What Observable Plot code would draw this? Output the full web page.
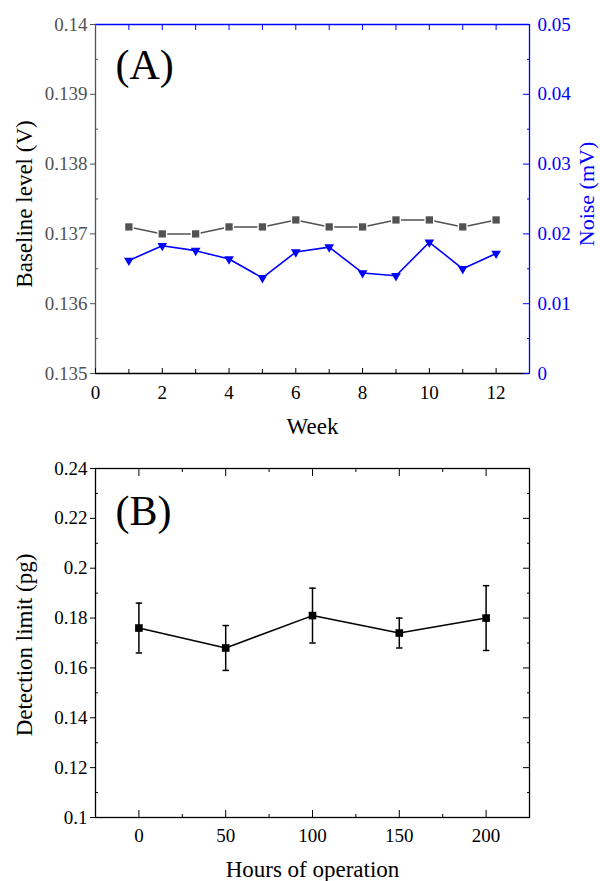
<!DOCTYPE html>
<html><head><meta charset="utf-8">
<script src="https://cdn.jsdelivr.net/npm/d3@7"></script>
<script src="https://cdn.jsdelivr.net/npm/@observablehq/plot@0.6"></script>
<style>
body{margin:0;background:#fff;}
#chart{width:600px;}
#chart svg{display:block;font-family:"Liberation Serif",serif;}
#chart svg text{font-family:"Liberation Serif",serif;font-variant-numeric:normal;}
</style></head><body><div id="chart"></div>
<script>
// ---- Panel A data ----
const weeks = [1,2,3,4,5,6,7,8,9,10,11,12];
const baseline = [0.1371,0.1370,0.1370,0.1371,0.1371,0.1372,0.1371,0.1371,0.1372,0.1372,0.1371,0.1372];
const noise = [0.0162,0.0183,0.0176,0.0164,0.0137,0.0174,0.0181,0.0144,0.0140,0.0188,0.0150,0.0172];
const weekTicks = [0,2,4,6,8,10,12];
const weekMinor = [1,3,5,7,9,11];
const weekTop = [1,2,3,4,5,6,7,8,9,10,11,12];
const baselineTicks = [0.135,0.136,0.137,0.138,0.139,0.14];
const baselineMinor = [0.1355,0.1365,0.1375,0.1385,0.1395];
const noiseTicks = [0,0.01,0.02,0.03,0.04,0.05];
const noiseMinor = [0.005,0.015,0.025,0.035,0.045];

// ---- Panel B data ----
const hours = [0,50,100,150,200];
const detection = [0.176,0.168,0.181,0.174,0.180];
const detErr = [0.010,0.009,0.011,0.006,0.013];
const hourTicks = [0,50,100,150,200];
const hourMinor = [25,75,125,175];
const detTicks = [0.1,0.12,0.14,0.16,0.18,0.2,0.22,0.24];
const detMinor = [0.11,0.13,0.15,0.17,0.19,0.21,0.23];

const GRAY = "#525252", BLUE = "#0000ff";
const FONT = "Liberation Serif";
const fmt = d => String(+d.toFixed(6));

// right-axis mapping (noise 0..0.05 -> baseline 0.135..0.14)
const toLeft = v => 0.135 + v * 0.1;

const tableA = weeks.map((w, i) => ({week: w, base: baseline[i], noise: noise[i], noiseY: toLeft(noise[i])}));
const tableB = hours.map((h, i) => ({h, v: detection[i], lo: detection[i] - detErr[i], hi: detection[i] + detErr[i]}));

const capSymbol = {draw(ctx){ ctx.moveTo(-3.2,0); ctx.lineTo(3.2,0); }};

const plotA = Plot.plot({
  width: 600, height: 445,
  marginTop: 24, marginLeft: 95, marginRight: 71, marginBottom: 72,
  style: {fontFamily: FONT, fontSize: "19px", background: "white", overflow: "visible"},
  x: {domain: [0, 13], axis: null},
  y: {domain: [0.135, 0.14], axis: null},
  marks: [
    // frame
    Plot.ruleY([0.135], {stroke: "black", strokeWidth: 1.3}),
    Plot.ruleY([0.14], {stroke: BLUE, strokeWidth: 1.3}),
    Plot.ruleX([0], {stroke: GRAY, strokeWidth: 1.3}),
    Plot.ruleX([13], {stroke: BLUE, strokeWidth: 1.3}),
    // left axis
    Plot.axisY(baselineTicks, {anchor: "left", tickSize: 5, tickPadding: 3, color: GRAY, label: null, fontSize: 19, fontFamily: FONT, tickFormat: fmt}),
    Plot.axisY(baselineMinor, {anchor: "left", tickSize: -3, tickFormat: () => "", color: GRAY, label: null}),
    // right axis
    Plot.axisY(noiseTicks.map(toLeft), {anchor: "right", tickSize: -7, tickFormat: () => "", color: BLUE, label: null}),
    Plot.axisY(noiseMinor.map(toLeft), {anchor: "right", tickSize: -3, tickFormat: () => "", color: BLUE, label: null}),
    Plot.axisY(noiseTicks.map(toLeft), {anchor: "right", tickSize: 0, tickPadding: 8, color: BLUE, label: null, fontSize: 19, fontFamily: FONT,
      tickFormat: (d, i) => String(noiseTicks[i])}),
    // bottom axis
    Plot.axisX(weekTicks, {anchor: "bottom", tickSize: -5, tickFormat: () => "", color: "black", label: null}),
    Plot.axisX(weekMinor, {anchor: "bottom", tickSize: -4, tickFormat: () => "", color: "black", label: null}),
    Plot.axisX(weekTicks, {anchor: "bottom", tickSize: 0, tickPadding: 12, color: "black", label: null, fontSize: 19, fontFamily: FONT, tickFormat: fmt}),
    // top axis
    Plot.axisX(weekTop, {anchor: "top", tickSize: -5, tickFormat: () => "", color: BLUE, label: null}),
    // series
    Plot.line(tableA, {x: "week", y: "base", stroke: GRAY, strokeWidth: 1.5}),
    Plot.dot(tableA, {x: "week", y: "base", symbol: "square", r: 5.6, fill: "white"}),
    Plot.dot(tableA, {x: "week", y: "base", symbol: "square", r: 4.1, fill: GRAY}),
    Plot.line(tableA, {x: "week", y: "noiseY", stroke: BLUE, strokeWidth: 1.6}),
    Plot.dot(tableA, {x: "week", y: "noiseY", symbol: "triangle", rotate: 180, r: 3.6, fill: BLUE}),
    // labels
    Plot.text(["(A)"], {text: d => d, frameAnchor: "top-left", dx: 20, dy: 25, textAnchor: "start", lineAnchor: "top", fontSize: 42, fontFamily: FONT, fill: "black"}),
    Plot.text(["Baseline level (V)"], {text: d => d, frameAnchor: "left", textAnchor: "middle", lineAnchor: "middle", rotate: -90, dx: -70.5, dy: 5, fontSize: 23, fontFamily: FONT, fill: "black"}),
    Plot.text(["Noise (mV)"], {text: d => d, frameAnchor: "right", textAnchor: "middle", lineAnchor: "middle", rotate: -90, dx: 57, dy: -5, fontSize: 22, fontFamily: FONT, fill: BLUE}),
    Plot.text(["Week"], {text: d => d, frameAnchor: "bottom", lineAnchor: "middle", dy: 53, fontSize: 23, fontFamily: FONT, fill: "black"})
  ]
});

const plotB = Plot.plot({
  width: 600, height: 436,
  marginTop: 23, marginLeft: 95, marginRight: 71, marginBottom: 64,
  style: {fontFamily: FONT, fontSize: "19px", background: "white", overflow: "visible"},
  x: {domain: [-25, 225], axis: null},
  y: {domain: [0.1, 0.24], axis: null},
  marks: [
    Plot.frame({stroke: "black", strokeWidth: 1.3}),
    Plot.axisY(detTicks, {anchor: "left", tickSize: 5, tickPadding: 3, color: "black", label: null, fontSize: 19, fontFamily: FONT, tickFormat: fmt}),
    Plot.axisY(detMinor, {anchor: "left", tickSize: -3, tickFormat: () => "", color: "black", label: null}),
    Plot.axisY(detTicks, {anchor: "right", tickSize: -7, tickFormat: () => "", color: "black", label: null}),
    Plot.axisY(detMinor, {anchor: "right", tickSize: -3, tickFormat: () => "", color: "black", label: null}),
    Plot.axisX(hourTicks, {anchor: "bottom", tickSize: -7, tickFormat: () => "", color: "black", label: null}),
    Plot.axisX(hourMinor, {anchor: "bottom", tickSize: -3, tickFormat: () => "", color: "black", label: null}),
    Plot.axisX(hourTicks, {anchor: "bottom", tickSize: 0, tickPadding: 11, color: "black", label: null, fontSize: 19, fontFamily: FONT, tickFormat: fmt}),
    Plot.axisX(hourTicks, {anchor: "top", tickSize: -7, tickFormat: () => "", color: "black", label: null}),
    Plot.axisX(hourMinor, {anchor: "top", tickSize: -3, tickFormat: () => "", color: "black", label: null}),
    // error bars
    Plot.ruleX(tableB, {x: "h", y1: "lo", y2: "hi", stroke: "black", strokeWidth: 1.5}),
    Plot.dot(tableB, {x: "h", y: "lo", symbol: capSymbol, stroke: "black", strokeWidth: 1.5, fill: "none"}),
    Plot.dot(tableB, {x: "h", y: "hi", symbol: capSymbol, stroke: "black", strokeWidth: 1.5, fill: "none"}),
    Plot.line(tableB, {x: "h", y: "v", stroke: "black", strokeWidth: 1.5}),
    Plot.dot(tableB, {x: "h", y: "v", symbol: "square", r: 4.3, fill: "black"}),
    Plot.text(["(B)"], {text: d => d, frameAnchor: "top-left", dx: 20, dy: 27, textAnchor: "start", lineAnchor: "top", fontSize: 42, fontFamily: FONT, fill: "black"}),
    Plot.text(["Detection limit (pg)"], {text: d => d, frameAnchor: "left", textAnchor: "middle", lineAnchor: "middle", rotate: -90, dx: -70.5, dy: 2, fontSize: 23, fontFamily: FONT, fill: "black"}),
    Plot.text(["Hours of operation"], {text: d => d, frameAnchor: "bottom", lineAnchor: "middle", dy: 52, fontSize: 23, fontFamily: FONT, fill: "black"})
  ]
});

document.getElementById("chart").append(plotA, plotB);
</script>
</body></html>
